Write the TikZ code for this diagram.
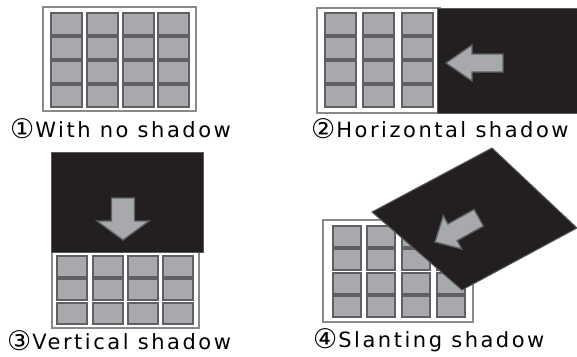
\documentclass[tikz,border=0pt]{standalone}
\usepackage{fontspec}
\setmainfont{DejaVu Sans}[LetterSpace=12]
\newfontfamily\circfont{DejaVu Sans}
\newcommand\circnum[1]{{\circfont\fontsize{27}{27}\selectfont\smash{\raisebox{-1.2pt}{#1}}}\kern1pt}
\begin{document}
\begin{tikzpicture}[x=1pt,y=-1pt,
  tile/.style={fill=tilegray,draw=tileedge,line width=1.4pt},
  frame/.style={fill=white,draw=framegray,line width=1.2pt},
  shadow/.style={fill=shadowblack,draw=shadowedge,line width=1pt},
  arrowshape/.style={fill=tilegray,draw=tileedge,line width=1.3pt,line join=miter},
  caption/.style={anchor=base west,inner sep=0pt,font=\fontsize{21}{23}\selectfont}]
\definecolor{tilegray}{HTML}{A7A9AC}
\definecolor{tileedge}{HTML}{5F6063}
\definecolor{framegray}{HTML}{8A8A8A}
\definecolor{shadowblack}{HTML}{231F20}
\definecolor{shadowedge}{HTML}{5A5A5A}
\useasboundingbox[fill=white] (0,0) rectangle (577,356);

% block arrow: tip at origin pointing along +x
% #1 total length, #2 head length, #3 head half width, #4 shaft half width
\newcommand\blockarrow[4]{%
  \draw[arrowshape] (0,0) -- (-#2,#3) -- (-#2,#4) -- (-#1,#4) -- (-#1,-#4)
    -- (-#2,-#4) -- (-#2,-#3) -- cycle;}

% 1: panel without shadow
\draw[frame] (43,7) rectangle (196,111);
\foreach \cx in {51,87,123,158}
  \foreach \cy in {13,37,61,85}
    \draw[tile] (\cx,\cy) rectangle ++(31,22);
\node[caption] (c1) at (10,137) {\circnum{①}With no shadow};

% 2: horizontal shadow
\draw[frame] (317,8) rectangle (440,113);
\foreach \cx in {325,363,402}
  \foreach \cy in {13,37,61,85}
    \draw[tile] (\cx,\cy) rectangle ++(31,22);
\draw[shadow] (437,8) rectangle (577,113);
\begin{scope}[shift={(446,63)},rotate=180]
  \blockarrow{57}{26}{18}{9}
\end{scope}
\node[caption] (c2) at (311,137) {\circnum{②}Horizontal shadow};

% 3: vertical shadow
\draw[frame] (52,245) rectangle (199,328);
\foreach \cx in {57,93,128,163}
  \foreach \cy in {256,279,303}
    \draw[tile] (\cx,\cy) rectangle ++(30,21);
\draw[shadow] (51,152) rectangle (203,252);
\begin{scope}[shift={(123,240)},rotate=-90]
  \blockarrow{42}{19}{26}{11.5}
\end{scope}
\node[caption] (c3) at (7,349) {\circnum{③}Vertical shadow};

% 4: slanting shadow
\draw[frame] (323,220) rectangle (473,322);
\foreach \cx in {333,367,402,437}
  \foreach \cy in {226,249,273,296}
    \draw[tile] (\cx,\cy) rectangle ++(28,21);
\draw[shadow] (372,212) -- (492,148) -- (577,228) -- (462,290) -- cycle;
\begin{scope}[shift={(435,242)},rotate=209]
  \blockarrow{50}{20}{19}{9.5}
\end{scope}
\node[caption] (c4) at (313,347) {\circnum{④}Slanting shadow};
\end{tikzpicture}
\end{document}
